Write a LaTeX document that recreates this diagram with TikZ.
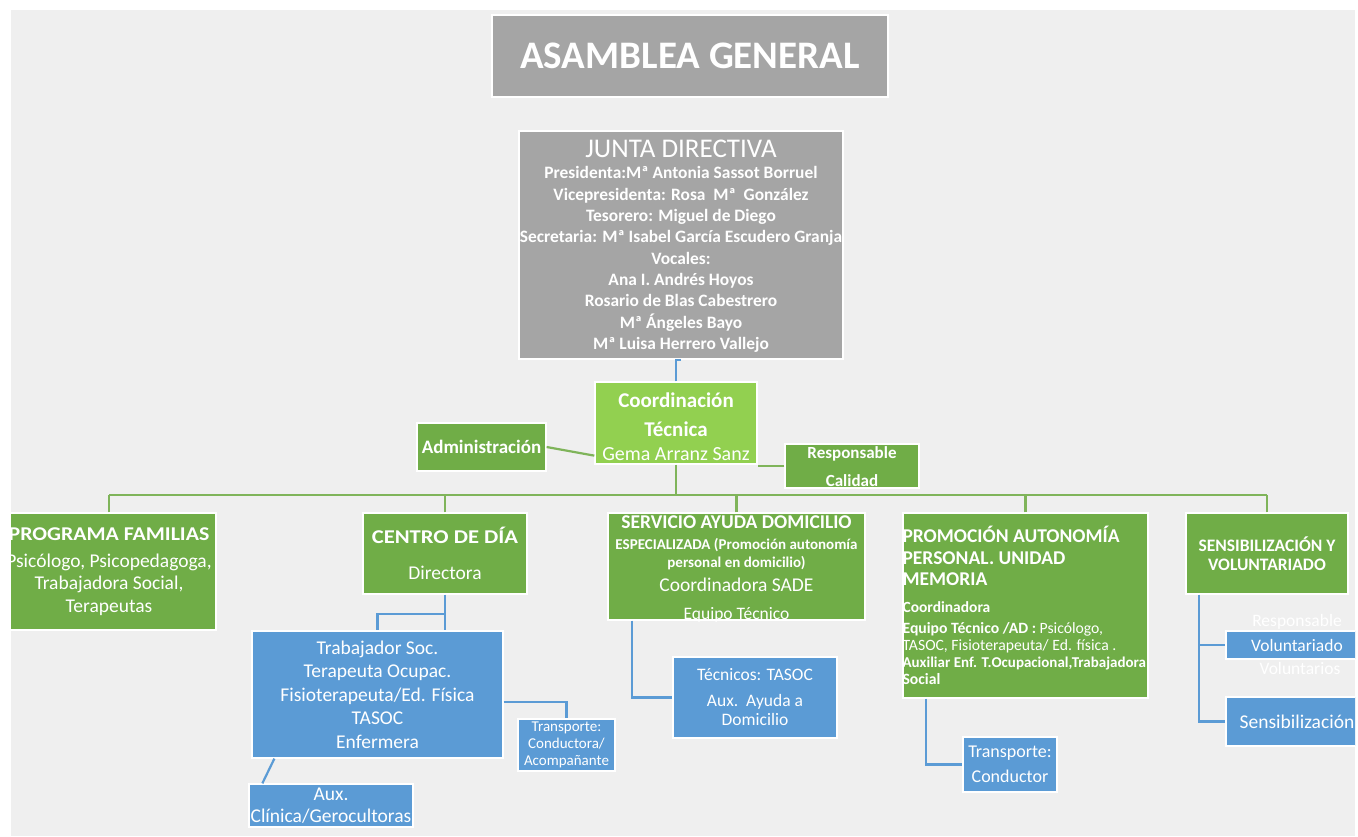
\documentclass[tikz,border=0pt]{standalone}
\usepackage{fontspec}
\usepackage{graphicx}
\setmainfont{Carlito}
\usetikzlibrary{calc}
\lineskiplimit=-100pt
\newcommand{\myfs}[2]{\fontsize{#1}{#2}\selectfont}
\definecolor{bgc}{HTML}{EFEFEF}
\definecolor{grayc}{HTML}{A5A5A5}
\definecolor{grnc}{HTML}{70AD47}
\definecolor{lgrnc}{HTML}{92D050}
\definecolor{bluc}{HTML}{5B9BD5}
\definecolor{glinec}{HTML}{7FB45A}
\tikzset{
  box/.style={draw=white, line width=1.3pt, inner sep=0pt, align=center, text=white, anchor=center},
  graybox/.style={box, fill=grayc},
  gbox/.style={box, fill=grnc},
  lgbox/.style={box, fill=lgrnc},
  bbox/.style={box, fill=bluc},
  txt/.style={inner sep=0pt, text=white},
  gline/.style={draw=glinec, line width=2.2pt},
  bline/.style={draw=bluc, line width=2.2pt},
}
\begin{document}
\begin{tikzpicture}[x=1pt, y=-1pt]
\useasboundingbox (0,0) rectangle (1358,836);
\fill[white] (0,0) rectangle (1358,836);
\fill[bgc] (11,10) rectangle (1355,836);
\begin{scope}
\clip (11,10) rectangle (1355,836);
% top levels
\node[graybox, minimum width=396, minimum height=82, font=\myfs{39}{40}\bfseries] (asam) at (690,56) {ASAMBLEA GENERAL};
\node[graybox, minimum width=324, minimum height=228] (junta) at (681,245) {};
\node[txt, align=center, font=\myfs{17.4}{21.3}\bfseries] (juntatxt) at ([yshift=-1pt]junta.center)
 {{\myfs{27}{27}\mdseries JUNTA DIRECTIVA}\\[0.5pt]
  Presidenta:Mª Antonia Sassot Borruel\\
  Vicepresidenta: Rosa\ \ Mª\ \ González\\
  Tesorero: Miguel de Diego\\
  Secretaria: Mª Isabel García Escudero Granja\\
  Vocales:\\
  Ana I. Andrés Hoyos\\
  Rosario de Blas Cabestrero\\
  Mª Ángeles Bayo\\
  Mª Luisa Herrero Vallejo};
\node[lgbox, minimum width=162, minimum height=82] (coord) at (676,423) {};
\node[txt, align=center, font=\myfs{20}{27}] (coordtxt) at ([yshift=-4pt]coord.center)
 {{\myfs{21}{27}\bfseries Coordinación}\\[2pt]{\myfs{21}{27}\bfseries Técnica}\\[-3pt]Gema Arranz Sanz};
\node[gbox, minimum width=129, minimum height=48, font=\myfs{19}{20}\bfseries] (admin) at (481.5,447) {Administración};
\node[gbox, minimum width=134, minimum height=44] (resp) at (852,466) {};
\node[txt, align=center, font=\myfs{17}{28}\bfseries] (resptxt) at ([yshift=-1pt]resp.center) {Responsable\\Calidad};
% second level
\node[gbox, minimum width=214, minimum height=117, font=\myfs{19.5}{22.5}] (pf) at (109,571.5)
 {{\bfseries\scalebox{1.12}[1]{PROGRAMA FAMILIAS}}\\[4pt]Psicólogo, Psicopedagoga,\\Trabajadora Social,\\Terapeutas};
\node[gbox, minimum width=164, minimum height=81, font=\myfs{19.5}{36}] (cdd) at (445,553.5)
 {{\bfseries\scalebox{1.16}[1]{CENTRO DE DÍA}}\\Directora};
\node[gbox, minimum width=257, minimum height=107] (sad) at (736.5,566.5) {};
\node[txt, align=center, font=\myfs{15}{18}\bfseries] (sadtxt) at ([yshift=-3pt]sad.center)
 {{\myfs{19.5}{20}SERVICIO AYUDA DOMICILIO}\\[3pt]
  ESPECIALIZADA (Promoción autonomía\\
  personal en domicilio)\\[6pt]
  {\myfs{19.5}{20}\mdseries Coordinadora SADE}\\[10pt]
  {\myfs{17.5}{20}\mdseries Equipo Técnico}};
\node[gbox, minimum width=245, minimum height=185] (pap) at (1025.5,605.5) {};
\node[txt, anchor=west, align=left, font=\myfs{15.7}{17}\bfseries] (paptxt) at (pap.west)
 {{\myfs{19.5}{20}PROMOCIÓN AUTONOMÍA}\\[4.5pt]
  {\myfs{19.5}{20}PERSONAL. UNIDAD}\\[4.5pt]
  {\myfs{19.5}{20}MEMORIA}\\[9.5pt]
  {\myfs{15.5}{17}Coordinadora}\\[4.5pt]
  Equipo Técnico /AD :{\mdseries\ Psicólogo,}\\
  {\mdseries TASOC, Fisioterapeuta/ Ed. física .}\\
  {\myfs{15}{17}Auxiliar Enf. T.Ocupacional,Trabajadora}\\
  Social};
\node[gbox, minimum width=162, minimum height=81, font=\myfs{17.5}{19.5}\bfseries] (syv) at (1267,553.5)
 {SENSIBILIZACIÓN Y\\VOLUNTARIADO};
% third level
\node[bbox, minimum width=251, minimum height=127, font=\myfs{19.5}{23.5}] (staff) at (377.5,694.5)
 {Trabajador Soc.\\Terapeuta Ocupac.\\Fisioterapeuta/Ed. Física\\TASOC\\Enfermera};
\node[bbox, minimum width=97, minimum height=52, font=\myfs{15}{17}] (trc) at (566.5,745)
 {Transporte:\\Conductora/\\Acompañante};
\node[bbox, minimum width=164, minimum height=43, font=\myfs{19.5}{22}] (aux) at (331,805.5)
 {Aux.\\Clínica/Gerocultoras};
\node[bbox, minimum width=164, minimum height=81, font=\myfs{17.5}{21}] (tec) at (755,697.5)
 {Técnicos: TASOC\\[5pt]Aux.\ \ Ayuda a\\[-2pt]Domicilio};
\node[bbox, minimum width=94, minimum height=55, font=\myfs{18}{25}] (trp) at (1010,764.5)
 {Transporte:\\Conductor};
\node[bbox, minimum width=142, minimum height=28, font=\myfs{17.5}{18}] (vol) at (1297,645) {Voluntariado};
\node[bbox, minimum width=142, minimum height=49, font=\myfs{19.5}{20}] (sen) at (1297,721.5) {Sensibilización};
\node[txt, font=\myfs{17.5}{18}] (respv) at (1297,622) {Responsable};
\node[txt, font=\myfs{17.5}{18}] (volv) at (1300,668) {Voluntarios};
% connectors
\coordinate (bus) at (0,495);
\draw[bline] (coord.north) -- (coord.north |- junta.south) -- ++(5,0);
\draw[gline] (admin.east) -- ($(coord.south west)+(0,-9)$);
\draw[gline] (resp.west) -- (resp.west -| coord.east);
\draw[gline] (coord.south) -- (coord.south |- bus);
\draw[gline] (pf.north |- bus) -- (syv.north |- bus);
\foreach \n in {pf,cdd,sad,pap,syv} \draw[gline] (\n.north) -- (\n.north |- bus);
\coordinate (cbr) at ($(cdd.south)+(0,19)$);
\draw[bline] (cdd.south) -- (cdd.south |- staff.north);
\draw[bline] (cbr) -- (cbr -| staff.north) -- (staff.north);
\coordinate (tj) at ($(staff.east)+(0,7.5)$);
\draw[bline] (tj) -- (tj -| trc.north) -- (trc.north);
\draw[bline] ($(staff.south west)+(23,0)$) -- ($(aux.north west)+(14,0)$);
\draw[bline] ($(sad.south west)+(25,0)$) |- (tec.west);
\draw[bline] ($(pap.south west)+(24,0)$) |- (trp.west);
\coordinate (sv) at ($(syv.south west)+(14,0)$);
\draw[bline] (sv) |- (sen.west);
\draw[bline] (sv |- vol.west) -- (vol.west);
\end{scope}
\end{tikzpicture}
\end{document}
